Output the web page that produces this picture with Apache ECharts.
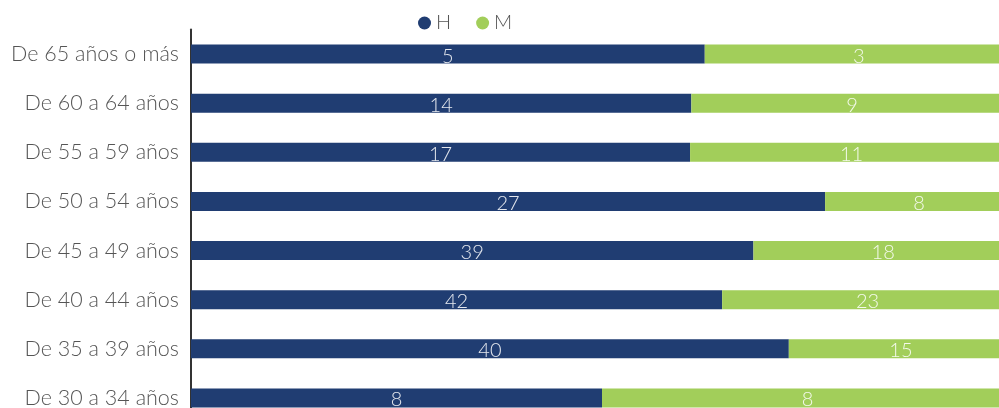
<!DOCTYPE html>
<html>
<head>
<meta charset="utf-8">
<style>
  html, body { margin: 0; padding: 0; background: #fff; }
  #chart { width: 999px; height: 408px; }
</style>
<script src="https://cdn.jsdelivr.net/npm/echarts@6/dist/echarts.min.js"></script>
</head>
<body>
<div id="chart"></div>
<script>
// Age groups, top to bottom
const categories = [
  'De 65 años o más',
  'De 60 a 64 años',
  'De 55 a 59 años',
  'De 50 a 54 años',
  'De 45 a 49 años',
  'De 40 a 44 años',
  'De 35 a 39 años',
  'De 30 a 34 años'
];
const seriesNames = ['H', 'M'];
const valuesH = [5, 14, 17, 27, 39, 42, 40, 8];
const valuesM = [3, 9, 11, 8, 18, 23, 15, 8];

// Each row is shown as a share of its own total (100% stacked)
const totals = valuesH.map((v, i) => v + valuesM[i]);
const shareOf = (arr) => arr.map((v, i) => ({ value: v / totals[i] * 100, raw: v }));

const labelStyle = {
  show: true,
  position: 'inside',
  color: 'rgba(255,255,255,0.88)',
  fontFamily: 'Lato',
  fontWeight: 300,
  fontSize: 20,
  offset: [0, 2],
  formatter: (p) => String(p.data.raw)
};

const chart = echarts.init(document.getElementById('chart'), null, { renderer: 'canvas' });
chart.setOption({
  animation: false,
  textStyle: { fontFamily: 'Lato' },
  legend: {
    data: seriesNames,
    left: 413,
    top: 8,
    icon: 'circle',
    itemWidth: 13,
    itemHeight: 13,
    itemGap: 25,
    textStyle: { fontFamily: 'Lato', fontWeight: 300, fontSize: 20, color: '#555' }
  },
  // the plot runs past the right and bottom edges of the canvas
  grid: {
    left: 191, top: 29.5, width: 822, height: 393,
    containLabel: false,
    outerBoundsMode: 'none'
  },
  xAxis: {
    type: 'value',
    min: 0,
    max: 100,
    show: false
  },
  yAxis: {
    type: 'category',
    data: categories,
    inverse: true,
    axisLine: { show: true, lineStyle: { color: '#333', width: 2 } },
    axisTick: { show: false },
    axisLabel: { color: '#555', fontFamily: 'Lato', fontWeight: 300, fontSize: 21.5, margin: 12 },
    splitLine: { show: false }
  },
  series: [
    {
      name: 'H',
      type: 'bar',
      stack: 'total',
      barWidth: 19,
      itemStyle: { color: '#203D72' },
      label: labelStyle,
      data: shareOf(valuesH)
    },
    {
      name: 'M',
      type: 'bar',
      stack: 'total',
      barWidth: 19,
      itemStyle: { color: '#A2CE5A' },
      label: labelStyle,
      data: shareOf(valuesM)
    }
  ]
});
</script>
</body>
</html>
